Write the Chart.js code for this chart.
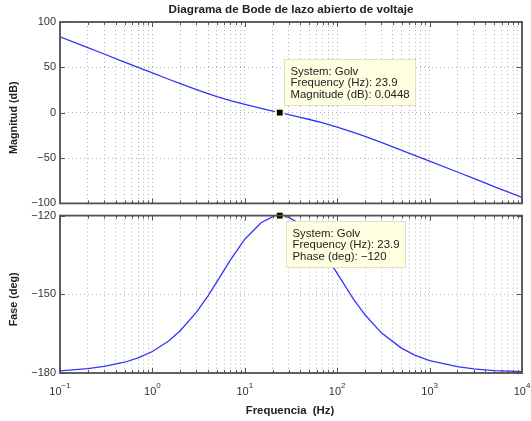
<!DOCTYPE html>
<html>
<head>
<meta charset="utf-8">
<script src="https://cdn.jsdelivr.net/npm/chart.js@4"></script>
<style>
  body { margin: 0; background: #fff; width: 531px; height: 421px; position: relative; overflow: hidden; }
  #magChart { position: absolute; left: 0; top: 0; }
  #phaseChart { position: absolute; left: 0; top: 205px; }
</style>
</head>
<body>
<canvas id="magChart" width="531" height="214"></canvas>
<canvas id="phaseChart" width="531" height="216"></canvas>
<script>
// values
var freqs = [0.1, 0.2, 0.3, 0.5, 0.7, 1, 1.5, 2, 3, 4, 5, 7, 10, 15, 20, 23.9, 30, 40, 50, 70, 100, 150, 200, 300, 500, 700, 1000, 2000, 3000, 5000, 10000];
var magnitudes = [83.7, 71.7, 64.7, 55.8, 50.0, 43.8, 36.9, 32.1, 25.5, 21.1, 17.8, 13.3, 9.1, 4.7, 1.8, 0.04, -2.2, -5.1, -7.5, -11.3, -15.9, -21.7, -26.2, -32.8, -41.5, -47.3, -53.4, -65.4, -72.5, -81.4, -93.4];
var phases = [-179.2, -178.3, -177.5, -175.9, -174.2, -171.8, -167.8, -163.9, -156.8, -150.6, -145.2, -136.9, -129.0, -122.7, -120.4, -120.0, -120.7, -123.3, -126.6, -133.4, -142.0, -151.8, -157.8, -164.7, -170.6, -173.3, -175.3, -177.6, -178.4, -179.1, -179.5];

var decades = [0.1, 1, 10, 100, 1000, 10000];
var decadeExps = ['\u22121', '0', '1', '2', '3', '4'];
var magRange = [-100, 100], magStep = 50;
var phaseRange = [-180, -120], phaseStep = 30;

var markerFreq = 23.9, markerMag = 0.0448, markerPhase = -120;
var magTip = ['System: Golv', 'Frequency (Hz): 23.9', 'Magnitude (dB): 0.0448'];
var phaseTip = ['System: Golv', 'Frequency (Hz): 23.9', 'Phase (deg): \u2212120'];

var FONT = "'Liberation Sans', Arial, Helvetica, sans-serif";
var INK = '#333';

// all ticks on the log axis: 1..9 in every decade
function logTicks() {
  var out = [];
  for (var d = 0; d < decades.length - 1; d++) {
    for (var m = 1; m < 10; m++) out.push(+(m * decades[d]).toPrecision(3));
  }
  out.push(decades[decades.length - 1]);
  return out;
}

function isDecade(v) {
  return decades.some(function (d) { return Math.abs(d - v) < d * 1e-6; });
}

// box round the plot and small ticks inside it, like matlab axes
var axesBox = {
  id: 'axesBox',
  afterDatasetsDraw: function (chart) {
    var a = chart.chartArea, ctx = chart.ctx;
    var xs = chart.scales.x, ys = chart.scales.y;
    ctx.save();
    ctx.strokeStyle = '#555';
    ctx.lineWidth = 1;
    ctx.beginPath();
    xs.ticks.forEach(function (t) {
      var px = Math.round(xs.getPixelForValue(t.value)) + 0.5;
      var len = isDecade(t.value) ? 5 : 3;
      ctx.moveTo(px, a.bottom); ctx.lineTo(px, a.bottom - len);
      ctx.moveTo(px, a.top); ctx.lineTo(px, a.top + len);
    });
    ys.ticks.forEach(function (t) {
      var py = Math.round(ys.getPixelForValue(t.value)) + 0.5;
      ctx.moveTo(a.left, py); ctx.lineTo(a.left + 5, py);
      ctx.moveTo(a.right, py); ctx.lineTo(a.right - 5, py);
    });
    ctx.stroke();
    ctx.lineWidth = 1.8;
    ctx.strokeStyle = '#505050';
    ctx.strokeRect(a.left, a.top, a.right - a.left, a.bottom - a.top);
    ctx.restore();
  }
};

// yellow data tip next to the marker
var dataTip = {
  id: 'dataTip',
  afterDraw: function (chart, args, opts) {
    if (!opts.lines) return;
    var ctx = chart.ctx;
    var px = chart.scales.x.getPixelForValue(opts.x);
    var py = chart.scales.y.getPixelForValue(opts.y);
    ctx.save();
    ctx.font = '11.4px ' + FONT;
    var w = 0;
    opts.lines.forEach(function (l) { w = Math.max(w, ctx.measureText(l).width); });
    var bw = Math.round(w + 13), bh = 47;
    var bx = Math.round(px + opts.dx), by = Math.round(py + opts.dy);
    ctx.fillStyle = '#ffffe1';
    ctx.fillRect(bx, by, bw, bh);
    ctx.strokeStyle = '#e2dec4';
    ctx.lineWidth = 1;
    ctx.strokeRect(bx + 0.5, by + 0.5, bw - 1, bh - 1);
    ctx.fillStyle = '#222';
    ctx.textBaseline = 'alphabetic';
    opts.lines.forEach(function (l, i) {
      ctx.fillText(l, bx + 6.5, by + 15.5 + i * 11.7);
    });
    ctx.restore();
  }
};

// figure title, axis titles and decade labels 10^n
var labels = {
  id: 'labels',
  afterDraw: function (chart, args, opts) {
    var ctx = chart.ctx, a = chart.chartArea;
    var cx = (a.left + a.right) / 2;
    ctx.save();
    ctx.fillStyle = '#222';
    if (opts.title) {
      ctx.font = 'bold 11.7px ' + FONT;
      ctx.textAlign = 'center';
      ctx.textBaseline = 'alphabetic';
      ctx.fillText(opts.title, cx, 12.5);
    }
    if (opts.yTitle) {
      ctx.save();
      ctx.translate(14.5, (a.top + a.bottom) / 2 + 5);
      ctx.rotate(-Math.PI / 2);
      ctx.font = 'bold 10.8px ' + FONT;
      ctx.textAlign = 'center';
      ctx.textBaseline = 'middle';
      ctx.fillText(opts.yTitle, 0, 0);
      ctx.restore();
    }
    if (opts.xLabels) {
      var xs = chart.scales.x;
      ctx.fillStyle = INK;
      ctx.textAlign = 'left';
      ctx.textBaseline = 'alphabetic';
      decades.forEach(function (d, i) {
        ctx.font = '11px ' + FONT;
        var w1 = ctx.measureText('10').width;
        ctx.font = '8px ' + FONT;
        var w2 = ctx.measureText(decadeExps[i]).width;
        var x0 = xs.getPixelForValue(d) - (w1 + w2) / 2;
        ctx.font = '11px ' + FONT;
        ctx.fillText('10', x0, a.bottom + 22);
        ctx.font = '8px ' + FONT;
        ctx.fillText(decadeExps[i], x0 + w1, a.bottom + 14.5);
      });
      ctx.fillStyle = '#222';
      ctx.font = 'bold 11.4px ' + FONT;
      ctx.textAlign = 'center';
      ctx.fillText(opts.xTitle, cx - 1, a.bottom + 41);
    }
    ctx.restore();
  }
};

function makeXAxis(height) {
  return {
    type: 'logarithmic',
    min: decades[0],
    max: decades[decades.length - 1],
    afterBuildTicks: function (scale) {
      scale.ticks = logTicks().map(function (v) { return { value: v }; });
    },
    afterFit: function (scale) { scale.height = height; },
    grid: { color: '#a0a0a0', lineWidth: 0.8, drawTicks: false },
    border: { display: false, dash: [1, 3] },
    ticks: { display: false, autoSkip: false }
  };
}

function makeYAxis(range, step) {
  return {
    min: range[0],
    max: range[1],
    afterFit: function (scale) { scale.width = 60; },
    grid: { color: '#a0a0a0', lineWidth: 0.8, drawTicks: false },
    border: { display: false, dash: [1, 3] },
    ticks: {
      stepSize: step,
      padding: 4,
      color: INK,
      font: { family: FONT, size: 11 },
      callback: function (v) { return String(v).replace('-', '\u2212'); }
    }
  };
}

function points(ys) {
  return freqs.map(function (f, i) { return { x: f, y: ys[i] }; });
}

function bodeChart(id, ys, markerY, range, step, yTitle, tipLines, tipDx, tipDy, padding, xHeight, extra) {
  var lab = { yTitle: yTitle };
  for (var k in extra) lab[k] = extra[k];
  return new Chart(document.getElementById(id), {
    type: 'line',
    data: {
      datasets: [{
        data: [{ x: markerFreq, y: markerY }],
        showLine: false,
        pointStyle: 'rect',
        pointRadius: 5.5,
        backgroundColor: '#000',
        borderColor: '#fdfbd0',
        borderWidth: 2,
        clip: false
      }, {
        data: points(ys),
        borderColor: '#3333ff',
        borderWidth: 1.3,
        pointRadius: 0,
        tension: 0,
        fill: false
      }]
    },
    options: {
      responsive: false,
      animation: false,
      layout: { padding: padding },
      scales: {
        x: makeXAxis(xHeight),
        y: makeYAxis(range, step)
      },
      plugins: {
        legend: { display: false },
        tooltip: { enabled: false },
        dataTip: { lines: tipLines, x: markerFreq, y: markerY, dx: tipDx, dy: tipDy },
        labels: lab
      }
    },
    plugins: [axesBox, dataTip, labels]
  });
}

bodeChart('magChart', magnitudes, markerMag, magRange, magStep, 'Magnitud (dB)',
  magTip, 4, -54, { left: 0, right: 9, top: 22, bottom: 0 }, 4,
  { title: 'Diagrama de Bode de lazo abierto de voltaje' });

bodeChart('phaseChart', phases, markerPhase, phaseRange, phaseStep, 'Fase (deg)',
  phaseTip, 6, 5, { left: 0, right: 9, top: 10, bottom: 0 }, 48,
  { xLabels: true, xTitle: 'Frequencia  (Hz)' });
</script>
</body>
</html>
